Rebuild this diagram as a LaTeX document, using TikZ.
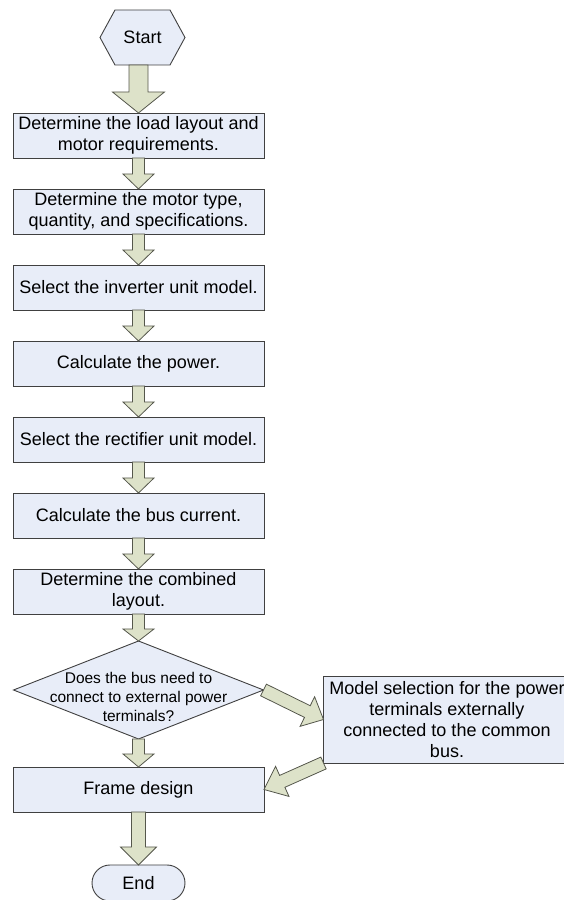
\documentclass[tikz,border=0pt]{standalone}
\usepackage{fontspec}
\setmainfont{Liberation Sans}
\usetikzlibrary{positioning,calc,shapes.geometric,shapes.misc,shapes.symbols}
\definecolor{boxfill}{HTML}{E8EDF8}
\definecolor{boxline}{HTML}{404040}
\definecolor{arrowfill}{HTML}{DDE2C9}
\definecolor{arrowline}{HTML}{55574C}
\newcommand\flowarrow[5]{%
  \coordinate (fa-base) at ($(#2)!#5!(#1)$);
  \draw[arrowbody] ($(#1)!#3!90:(#2)$) -- ($(fa-base)!#3!90:(#2)$) -- ($(fa-base)!#4!90:(#2)$) -- (#2)
    -- ($(fa-base)!#4!-90:(#2)$) -- ($(fa-base)!#3!-90:(#2)$) -- ($(#1)!#3!-90:(#2)$) -- cycle;}

\begin{document}
\begin{tikzpicture}[x=1pt,y=1pt,
    every node/.style={font=\fontsize{18pt}{21pt}\selectfont,outer sep=0pt},
    stepbox/.style={draw=boxline,fill=boxfill,line width=0.9pt,minimum width=251pt,minimum height=45pt,inner xsep=2pt,inner ysep=2pt,align=center},
    decision/.style={diamond,draw=boxline,fill=boxfill,line width=0.9pt,minimum width=250pt,minimum height=98pt,inner xsep=-90pt,inner ysep=-26pt,align=center,font=\fontsize{15.5pt}{19pt}\selectfont},
    startbox/.style={signal,signal to=east and west,signal pointer angle=122.8,draw=boxline,fill=boxfill,line width=0.9pt,minimum width=85pt,minimum height=55pt,inner sep=0pt},
    stopbox/.style={rounded rectangle,draw=boxline,fill=boxfill,line width=0.9pt,minimum width=93pt,minimum height=36pt,inner sep=0pt},
    arrowbody/.style={draw=arrowline,fill=arrowfill,line width=0.8pt,line join=miter}]
    \useasboundingbox (0,0) rectangle (563,900);
    \node[startbox] (start) at (142.5,862.5) {Start};
    \node[stepbox,below=48pt of start,xshift=-4pt] (load) {Determine the load layout and\\motor requirements.};
    \node[stepbox,below=31pt of load] (motor) {Determine the motor type,\\quantity, and specifications.};
    \node[stepbox,below=31pt of motor] (inverter) {Select the inverter unit model.};
    \node[stepbox,below=31pt of inverter] (power) {Calculate the power.};
    \node[stepbox,below=31pt of power] (rectifier) {Select the rectifier unit model.};
    \node[stepbox,below=31pt of rectifier] (current) {Calculate the bus current.};
    \node[stepbox,below=31pt of current] (layout) {Determine the combined\\layout.};
    \node[decision,below=27pt of layout] (bus) {\rule{0pt}{25pt}Does the bus need to\\connect to external power\\terminals?};
    \node[stepbox,minimum width=247pt,minimum height=87pt,right=60pt of bus,yshift=-29.5pt] (model) {Model selection for the power\\terminals externally\\connected to the common\\bus.};
    \node[stepbox,below=28pt of bus] (frame) {Frame design};
    \node[stopbox,below=53pt of frame] (stop) {End};
    \flowarrow{start.south -| load.north}{load.north}{9.5pt}{26pt}{21pt}
    \flowarrow{load.south}{motor.north}{6pt}{15.5pt}{15pt}
    \flowarrow{motor.south}{inverter.north}{6pt}{15.5pt}{15pt}
    \flowarrow{inverter.south}{power.north}{6pt}{15.5pt}{15pt}
    \flowarrow{power.south}{rectifier.north}{6pt}{15.5pt}{15pt}
    \flowarrow{rectifier.south}{current.north}{6pt}{15.5pt}{15pt}
    \flowarrow{current.south}{layout.north}{6pt}{15.5pt}{15pt}
    \flowarrow{layout.south}{bus.north}{6pt}{15.5pt}{12pt}
    \flowarrow{bus.south}{frame.north}{6pt}{15.5pt}{13pt}
    \flowarrow{bus.east}{model.west}{6.5pt}{16.5pt}{18pt}
    \flowarrow{model.south west}{frame.east}{6.5pt}{16.5pt}{20pt}
    \flowarrow{frame.south}{stop.north}{7pt}{18pt}{18pt}
\end{tikzpicture}
\end{document}
